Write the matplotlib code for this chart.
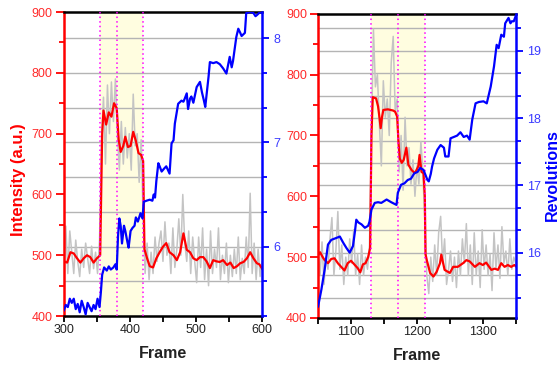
import numpy as np
import matplotlib
matplotlib.use("Agg")
import matplotlib.pyplot as plt
from matplotlib.ticker import MultipleLocator
from matplotlib.transforms import blended_transform_factory

plt.rcParams["font.family"] = ["Liberation Sans", "DejaVu Sans"]

# ---- left panel data (frames 300-600) ----
left_raw = [
    480, 548, 470, 540, 505, 470, 525, 490, 465, 510,
    480, 520, 495, 470, 515, 478, 505, 470, 525, 690,
    760, 650, 780, 700, 785, 720, 790, 700, 640, 720,
    650, 710, 660, 700, 640, 765, 680, 700, 620, 690,
    560, 470, 520, 460, 505, 470, 530, 490, 520, 540,
    490, 555, 500, 520, 470, 545, 480, 510, 560, 500,
    600, 520, 490, 540, 470, 530, 490, 455, 530, 480,
    545, 460, 510, 450, 540, 470, 510, 480, 545, 460,
    500, 470, 520, 455, 500, 465, 510, 470, 530, 460,
    495, 470, 530, 480, 602, 470, 520, 460, 510, 465,
    490,
]
left_raw_frames = np.arange(300, 300 + 3 * len(left_raw), 3)

left_smooth_frames = [
    300, 305, 310, 315, 320, 325, 330, 335, 340, 345, 350, 355, 358, 360,
    364, 368, 372, 376, 380, 383, 386, 390, 393, 397, 401, 405, 409, 413,
    417, 420, 422, 426, 430, 435, 440, 445, 450, 455, 460, 466, 471, 476,
    481, 486, 491, 496, 501, 506, 511, 516, 521, 526, 531, 536, 541, 547,
    552, 557, 562, 567, 572, 577, 582, 587, 592, 596, 600,
]
left_smooth = [
    490, 488, 505, 503, 495, 488, 495, 500, 497, 488, 495, 500, 700, 738,
    715, 735, 728, 750, 742, 690, 670, 680, 695, 678, 680, 703, 688, 668,
    665, 655, 510, 495, 482, 480, 495, 505, 514, 520, 505, 500, 492, 505,
    536, 509, 505, 495, 492, 497, 497, 490, 479, 492, 490, 489, 492, 484,
    488, 479, 482, 487, 489, 495, 505, 495, 487, 485, 478,
]

left_rev_frames = [
    300, 303, 306, 309, 312, 315, 318, 321, 324, 327, 330, 333, 336, 339,
    342, 345, 348, 351, 354, 356, 358, 361, 365, 368, 371, 375, 378, 380,
    382, 384, 386, 388, 391, 393, 396, 398, 401, 404, 407, 409, 412, 416,
    419, 421, 425, 430, 434, 436, 438, 440, 443, 445, 448, 452, 455, 460,
    463, 466, 468, 473, 478, 481, 483, 486, 488, 491, 493, 496, 498, 501,
    506, 509, 512, 514, 519, 521, 526, 531, 536, 541, 546, 551, 554, 556,
    561, 564, 567, 569, 574, 576, 582, 587, 590, 592, 597, 600,
]
left_rev = [
    5.39, 5.44, 5.42, 5.50, 5.46, 5.50, 5.40, 5.45, 5.37, 5.48, 5.42, 5.35,
    5.46, 5.42, 5.38, 5.44, 5.40, 5.50, 5.42, 5.56, 5.73, 5.80, 5.77, 5.81,
    5.78, 5.80, 5.83, 5.78, 6.10, 6.27, 6.20, 6.03, 6.20, 6.15, 6.05, 5.99,
    6.15, 6.18, 6.20, 6.28, 6.24, 6.32, 6.27, 6.43, 6.44, 6.45, 6.44, 6.50,
    6.47, 6.63, 6.80, 6.77, 6.72, 6.75, 6.77, 6.70, 6.99, 7.02, 7.18, 7.37,
    7.40, 7.39, 7.42, 7.47, 7.32, 7.42, 7.44, 7.38, 7.44, 7.53, 7.58, 7.48,
    7.40, 7.34, 7.63, 7.77, 7.76, 7.77, 7.75, 7.71, 7.66, 7.82, 7.72, 7.78,
    8.01, 8.09, 8.05, 8.02, 8.05, 8.24, 8.25, 8.24, 8.21, 8.22, 8.25, 8.24,
]
left_marks = [355, 380, 420]

# ---- right panel data (frames 1050-1350) ----
right_raw = [
    510, 470, 525, 455, 500, 480, 530, 565, 470, 510,
    575, 480, 520, 455, 500, 470, 530, 490, 545, 470,
    505, 455, 520, 470, 500, 480, 520, 700, 875, 780,
    800, 720, 650, 790, 730, 760, 700, 820, 863, 740,
    760, 640, 700, 610, 730, 650, 680, 620, 660, 600,
    650, 620, 690, 640, 560, 470, 440, 500, 460, 520,
    470, 540, 567, 490, 530, 455, 480, 510, 460, 500,
    450, 510, 470, 530, 490, 555, 470, 520, 455, 540,
    470, 510, 450, 545, 480, 520, 470, 505, 445, 540,
    480, 520, 465, 550, 490, 510, 470, 530, 480, 500,
    490,
]
right_raw_frames = np.arange(1050, 1050 + 3 * len(right_raw), 3)

right_smooth_frames = [
    1050, 1053, 1057, 1060, 1065, 1070, 1075, 1080, 1085, 1090, 1095, 1100,
    1105, 1110, 1114, 1118, 1122, 1126, 1129, 1131, 1133, 1138, 1141, 1143,
    1145, 1147, 1149, 1156, 1164, 1167, 1170, 1172, 1174, 1177, 1180, 1184,
    1187, 1192, 1197, 1202, 1204, 1207, 1210, 1212, 1213, 1215, 1220, 1225,
    1230, 1235, 1237, 1242, 1250, 1255, 1262, 1270, 1275, 1280, 1288, 1295,
    1300, 1305, 1313, 1318, 1323, 1328, 1333, 1338, 1343, 1348, 1350,
]
right_smooth = [
    503, 508, 500, 495, 490, 497, 498, 490, 484, 478, 490, 494,
    488, 482, 475, 488, 490, 500, 515, 700, 763, 761, 748, 731,
    712, 730, 742, 743, 741, 739, 731, 690, 662, 655, 660, 680,
    652, 643, 638, 649, 668, 640, 638, 600, 505, 495, 474, 468,
    476, 490, 504, 479, 474, 484, 484, 490, 495, 493, 484, 490,
    487, 491, 479, 481, 479, 490, 484, 487, 484, 487, 485,
]

right_rev_frames = [
    1050, 1055, 1060, 1065, 1070, 1078, 1083, 1088, 1093, 1098, 1103, 1106,
    1108, 1111, 1116, 1121, 1126, 1128, 1131, 1136, 1141, 1146, 1154, 1161,
    1169, 1171, 1176, 1181, 1186, 1191, 1196, 1201, 1205, 1210, 1216, 1218,
    1221, 1223, 1226, 1231, 1236, 1241, 1243, 1248, 1251, 1256, 1261, 1266,
    1271, 1276, 1280, 1284, 1289, 1294, 1301, 1306, 1312, 1317, 1321, 1324,
    1328, 1332, 1334, 1339, 1342, 1344, 1347, 1350,
]
right_rev = [
    15.20, 15.45, 15.75, 16.12, 16.19, 16.22, 16.24, 16.15, 16.07, 16.00,
    16.10, 16.32, 16.49, 16.45, 16.42, 16.37, 16.40, 16.46, 16.64, 16.74,
    16.75, 16.74, 16.79, 16.75, 16.71, 16.89, 17.01, 17.03, 17.08, 17.10,
    17.18, 17.20, 17.26, 17.23, 17.08, 17.06, 17.17, 17.28, 17.40, 17.53,
    17.60, 17.56, 17.43, 17.43, 17.70, 17.72, 17.74, 17.79, 17.72, 17.74,
    17.68, 17.98, 18.22, 18.24, 18.25, 18.22, 18.47, 18.77, 19.09, 19.04,
    19.24, 19.21, 19.41, 19.49, 19.41, 19.44, 19.44, 19.52,
]
right_marks = [1131, 1171, 1212]

RED = "#ff0000"
BLUE = "#0000ff"
GRAY = "#c4c4c4"


def draw_panel(fig, rect, raw_x, raw_y, sm_x, sm_y, rev_x, rev_y, marks,
               xlim, rev_lim, show_rev_label):
    ax = fig.add_axes(rect)
    ax2 = ax.twinx()

    ax.axvspan(marks[0], marks[-1], facecolor="#fffde0", edgecolor="none", zorder=0.5)
    for m in marks:
        ax.axvline(m, color="#ff00ff", linestyle=(0, (1, 2)), lw=1.1, zorder=3)

    ax.plot(raw_x, raw_y, color=GRAY, lw=1.1, zorder=1.5)
    ax.plot(sm_x, sm_y, color=RED, lw=1.6, zorder=2)
    ax2.plot(rev_x, rev_y, color=BLUE, lw=1.6)

    ax.set_xlim(*xlim)
    ax.set_ylim(400, 900)
    ax2.set_ylim(*rev_lim)

    ax.xaxis.set_major_locator(MultipleLocator(100))
    ax.xaxis.set_minor_locator(MultipleLocator(50))
    ax.yaxis.set_major_locator(MultipleLocator(100))
    ax.yaxis.set_minor_locator(MultipleLocator(50))
    ax2.yaxis.set_major_locator(MultipleLocator(1))
    ax2.yaxis.set_minor_locator(MultipleLocator(1 / 3))

    # horizontal grid follows the revolution ticks (1/3 turn)
    trans = blended_transform_factory(ax.transAxes, ax2.transData)
    first = np.ceil(rev_lim[0] * 3 - 1e-6) / 3
    for g in np.arange(first, rev_lim[1], 1 / 3):
        ax.plot([0, 1], [g, g], transform=trans, color="#b4b4b4", lw=1.0, zorder=0.8)

    ax.spines["right"].set_visible(False)
    for s in ("left", "top", "bottom"):
        ax2.spines[s].set_visible(False)
    ax.spines["left"].set_color(RED)
    ax.spines["left"].set_linewidth(1.8)
    ax.spines["top"].set_linewidth(1.8)
    ax.spines["bottom"].set_linewidth(1.8)
    ax2.spines["right"].set_color(BLUE)
    ax2.spines["right"].set_linewidth(1.8)

    ax.tick_params(axis="y", which="major", colors=RED, labelcolor="#ff2a2a",
                   length=6, width=1.3, labelsize=9, pad=2)
    ax.tick_params(axis="y", which="minor", colors=RED, length=3.5, width=1.3)
    ax.tick_params(axis="x", which="major", colors="black", labelcolor="#222222",
                   length=4, width=1.3, labelsize=9, pad=2)
    ax.tick_params(axis="x", which="minor", colors="black", length=4, width=1.3)
    ax2.tick_params(axis="y", which="major", colors=BLUE, labelcolor="#3a3aff",
                    length=5, width=1.3, labelsize=9, pad=3)
    ax2.tick_params(axis="y", which="minor", colors=BLUE, length=3.5, width=1.3)

    ax.set_xlabel("Frame", fontsize=11.5, fontweight="bold", color="#222222")
    ax.xaxis.set_label_coords(0.5, -0.1)
    if show_rev_label:
        ax2.set_ylabel("Revolutions", fontsize=11.5, fontweight="bold", color=BLUE)
        ax2.yaxis.set_label_coords(1.145, 0.47)
    return ax, ax2


fig = plt.figure(figsize=(5.6, 3.65), dpi=100)

axl, axl2 = draw_panel(fig, [0.114, 0.134, 0.354, 0.833],
                       left_raw_frames, left_raw, left_smooth_frames, left_smooth,
                       left_rev_frames, left_rev, left_marks,
                       (300, 600), (16 / 3, 8.25), False)
axl.set_ylabel("Intensity (a.u.)", fontsize=12, fontweight="bold", color=RED)
axl.yaxis.set_label_coords(-0.19, 0.45)

axr, axr2 = draw_panel(fig, [0.568, 0.129, 0.353, 0.833],
                       right_raw_frames, right_raw, right_smooth_frames, right_smooth,
                       right_rev_frames, right_rev, right_marks,
                       (1050, 1350), (15.03, 19.55), True)

fig.savefig("out.png", dpi=100)
